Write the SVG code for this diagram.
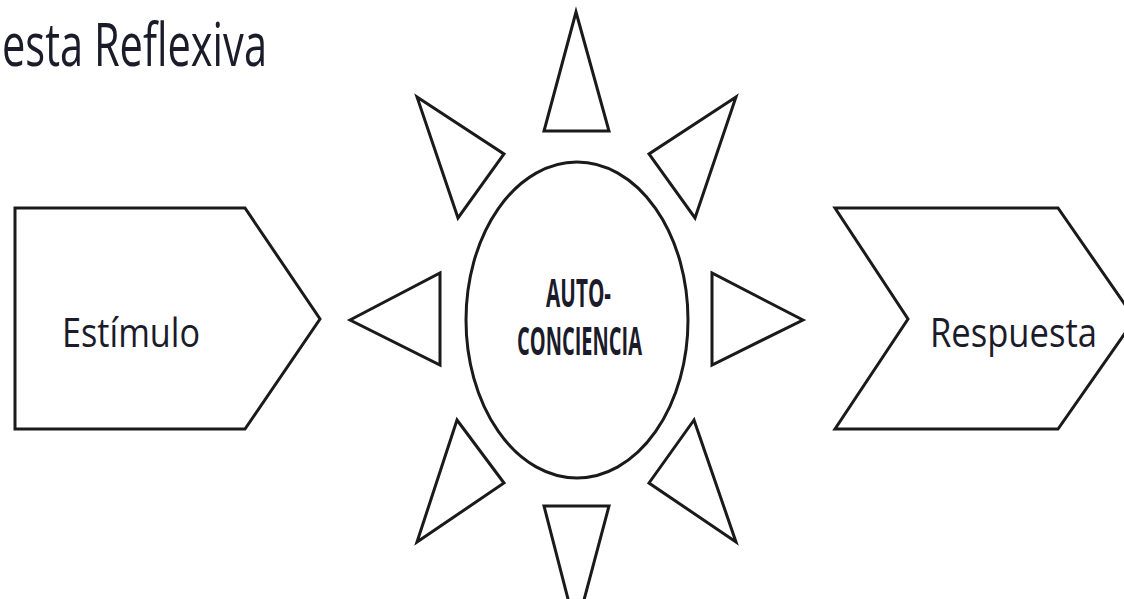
<svg xmlns="http://www.w3.org/2000/svg" width="1124" height="599" viewBox="0 0 1124 599">
<style>
.s{fill:#fff;stroke:#1a1a1a;stroke-width:3;stroke-linejoin:miter}
.t{font-family:"Open Sans","Liberation Sans",Arial,sans-serif;fill:#1b1b2a}
</style>
<rect width="1124" height="599" fill="#fff"/>
<text class="t" x="2" y="66" font-size="61" textLength="265" lengthAdjust="spacingAndGlyphs">esta Reflexiva</text>
<g id="estimulo">
<polygon class="s" points="15,208 245,208 320,319 245,429 15,429"/>
<text class="t" x="62" y="347" font-size="40" textLength="138" lengthAdjust="spacingAndGlyphs">Estímulo</text>
</g>
<g id="respuesta">
<polygon class="s" points="835,208 1058,208 1135,319 1058,429 835,429 908,319"/>
<text class="t" x="930" y="347" font-size="40" textLength="167" lengthAdjust="spacingAndGlyphs">Respuesta</text>
</g>
<g id="autoconciencia">
<ellipse class="s" cx="577" cy="320" rx="111" ry="158"/>
<text class="t" x="546" y="307" font-size="39" font-weight="bold" textLength="65" lengthAdjust="spacingAndGlyphs">AUTO-</text>
<text class="t" x="517" y="355" font-size="39" font-weight="bold" textLength="125" lengthAdjust="spacingAndGlyphs">CONCIENCIA</text>
</g>
<g id="rays">
<polygon class="s" points="576,12 609,131 544,131"/>
<polygon class="s" points="417,97 504,154 458,218"/>
<polygon class="s" points="736,97 649,154 695,218"/>
<polygon class="s" points="350,320 440,273 440,365"/>
<polygon class="s" points="803,320 712,273 712,365"/>
<polygon class="s" points="457,420 504,483 417,542"/>
<polygon class="s" points="694,420 649,483 736,542"/>
<polygon class="s" points="544,506 609,506 576,630"/>
</g>
</svg>
